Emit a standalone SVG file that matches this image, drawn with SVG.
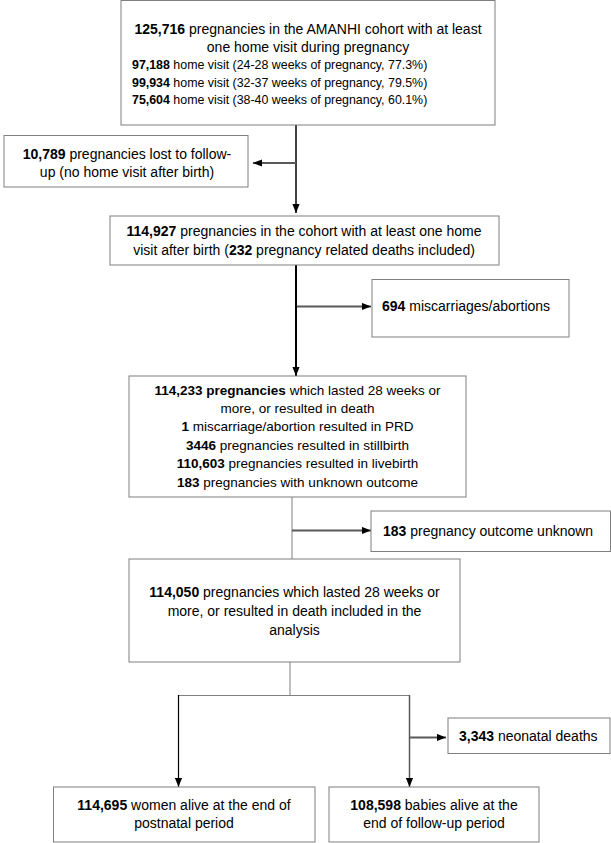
<svg xmlns="http://www.w3.org/2000/svg" width="611" height="843" viewBox="0 0 611 843">
<defs>
<marker id="ah" viewBox="0 0 10 8" refX="10" refY="4" markerWidth="9" markerHeight="8" markerUnits="userSpaceOnUse" orient="auto">
<path d="M0,0 L10,4 L0,8 Z" fill="#000"/>
</marker>
</defs>
<style>
.box{fill:#fff;stroke:#7f7f7f;stroke-width:1}
text{font-family:"Liberation Sans",Arial,sans-serif;font-size:14px;fill:#000}
.c{text-anchor:middle}
.s{font-size:12.4px}
.m{font-size:13.5px}
.b{font-weight:bold}
.v{stroke:#000;stroke-width:1.5;fill:none}
.h{stroke:#595959;stroke-width:2;fill:none}
.t{stroke:#7f7f7f;stroke-width:1;fill:none}
</style>
<rect width="611" height="843" fill="#fff"/>
<g id="connectors">
<line class="v" x1="296" y1="125" x2="296" y2="213" marker-end="url(#ah)"/>
<line class="h" x1="296" y1="163" x2="253" y2="163" marker-end="url(#ah)"/>
<line class="v" x1="296" y1="265" x2="296" y2="376" marker-end="url(#ah)" style="stroke-width:2"/>
<line class="h" x1="297" y1="306.5" x2="371" y2="306.5" marker-end="url(#ah)"/>
<line class="t" x1="292" y1="497" x2="292" y2="559"/>
<line class="h" x1="292" y1="530.5" x2="371" y2="530.5" marker-end="url(#ah)"/>
<line class="t" x1="290" y1="662" x2="290" y2="695.5"/>
<line class="t" x1="178.5" y1="695.5" x2="410" y2="695.5"/>
<line class="v" x1="178.5" y1="695" x2="178.5" y2="787" marker-end="url(#ah)" style="stroke-width:1.2"/>
<line class="h" x1="409.5" y1="695" x2="409.5" y2="787" marker-end="url(#ah)" style="stroke-width:1.5"/>
<line class="h" x1="409.5" y1="737.5" x2="446" y2="737.5" marker-end="url(#ah)"/>
</g>
<g id="n1">
<rect class="box" x="121" y="0.5" width="374" height="124.5"/>
<text class="c" x="308" y="34"><tspan class="b">125,716</tspan> pregnancies in the AMANHI cohort with at least</text>
<text class="c" x="308" y="52">one home visit during pregnancy</text>
<text class="s" x="132" y="69"><tspan class="b">97,188</tspan> home visit (24-28 weeks of pregnancy, 77.3%)</text>
<text class="s" x="132" y="86.5"><tspan class="b">99,934</tspan> home visit (32-37 weeks of pregnancy, 79.5%)</text>
<text class="s" x="132" y="104"><tspan class="b">75,604</tspan> home visit (38-40 weeks of pregnancy, 60.1%)</text>
</g>
<g id="n2">
<rect class="box" x="4" y="135.5" width="244" height="51.5"/>
<text class="c" x="127" y="159"><tspan class="b">10,789</tspan> pregnancies lost to follow-</text>
<text class="c" x="127" y="177">up (no home visit after birth)</text>
</g>
<g id="n3">
<rect class="box" x="110" y="216" width="389" height="49"/>
<text class="c" x="304" y="236"><tspan class="b">114,927</tspan> pregnancies in the cohort with at least one home</text>
<text class="c" x="304" y="255">visit after birth (<tspan class="b">232</tspan> pregnancy related deaths included)</text>
</g>
<g id="n4">
<rect class="box" x="372" y="279.5" width="197" height="57.5"/>
<text x="382" y="311"><tspan class="b">694</tspan> miscarriages/abortions</text>
</g>
<g id="n5">
<rect class="box" x="129" y="376" width="337" height="121"/>
<text class="c m" x="297.5" y="395"><tspan class="b">114,233 pregnancies</tspan> which lasted 28 weeks or</text>
<text class="c m" x="297.5" y="413">more, or resulted in death</text>
<text class="c m" x="297.5" y="431"><tspan class="b">1</tspan> miscarriage/abortion resulted in PRD</text>
<text class="c m" x="297.5" y="449.5"><tspan class="b">3446</tspan> pregnancies resulted in stillbirth</text>
<text class="c m" x="297.5" y="468"><tspan class="b">110,603</tspan> pregnancies resulted in livebirth</text>
<text class="c m" x="297.5" y="486.5"><tspan class="b">183</tspan> pregnancies with unknown outcome</text>
</g>
<g id="n6">
<rect class="box" x="371" y="511" width="239.5" height="40.5"/>
<text x="383" y="535.5"><tspan class="b">183</tspan> pregnancy outcome unknown</text>
</g>
<g id="n7">
<rect class="box" x="129" y="559" width="331" height="103"/>
<text class="c" x="294.5" y="597"><tspan class="b">114,050</tspan> pregnancies which lasted 28 weeks or</text>
<text class="c" x="294.5" y="616">more, or resulted in death included in the</text>
<text class="c" x="294.5" y="634.5">analysis</text>
</g>
<g id="n8">
<rect class="box" x="448" y="718" width="162" height="35.5"/>
<text x="459" y="740.5"><tspan class="b">3,343</tspan> neonatal deaths</text>
</g>
<g id="n9">
<rect class="box" x="53.5" y="787" width="261.5" height="55"/>
<text class="c" x="184" y="809.5"><tspan class="b">114,695</tspan> women alive at the end of</text>
<text class="c" x="184" y="827.5">postnatal period</text>
</g>
<g id="n10">
<rect class="box" x="329" y="787" width="210" height="55"/>
<text class="c" x="434" y="809.5"><tspan class="b">108,598</tspan> babies alive at the</text>
<text class="c" x="434" y="827.5">end of follow-up period</text>
</g>
</svg>
